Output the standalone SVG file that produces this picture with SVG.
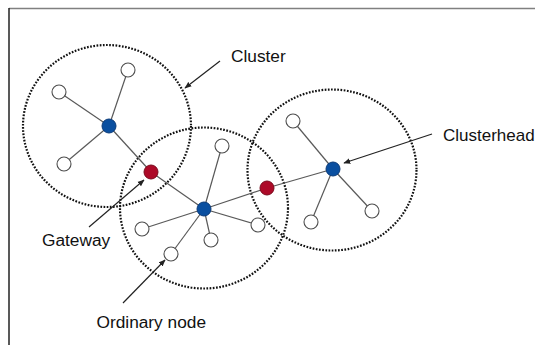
<svg xmlns="http://www.w3.org/2000/svg" width="535" height="345" viewBox="0 0 535 345">
<style>
.cl{fill:none;stroke:#111;stroke-width:2.2;stroke-dasharray:1.7 1.5}
.ed{stroke:#595959;stroke-width:1.2;fill:none}
.ord{fill:#fff;stroke:#4d4d4d;stroke-width:1.1}
.head{fill:#0a4fa0;stroke:#0a3a78;stroke-width:1}
.gw{fill:#ad0a28;stroke:#7a0a1c;stroke-width:1}
.lbl{font-family:"Liberation Sans",Arial,sans-serif;font-size:17.3px;fill:#111}
.ar{stroke:#222;stroke-width:1.2;fill:none;marker-end:url(#ah)}
</style>
<defs>
<marker id="ah" viewBox="0 0 10 10" refX="9" refY="5" markerWidth="7" markerHeight="7" markerUnits="userSpaceOnUse" orient="auto">
<path d="M0,1 L10,5 L0,9 z" fill="#222"/>
</marker>
</defs>
<rect width="535" height="345" fill="#fff"/>
<g id="frame">
<line x1="9" y1="8.5" x2="535" y2="8.5" stroke="#808080" stroke-width="1.5"/>
<line x1="9" y1="8" x2="9" y2="345" stroke="#222" stroke-width="1.5"/>
</g>
<g id="clusters">
<ellipse class="cl" cx="107" cy="126" rx="84" ry="81"/>
<ellipse class="cl" cx="204" cy="208" rx="84" ry="80.5"/>
<ellipse class="cl" cx="332" cy="170" rx="84.5" ry="80.5"/>
</g>
<g id="connectors">
<line class="ed" x1="109" y1="126" x2="128" y2="70"/>
<line class="ed" x1="109" y1="126" x2="59" y2="92"/>
<line class="ed" x1="109" y1="126" x2="64" y2="164"/>
<line class="ed" x1="109" y1="126" x2="151" y2="172"/>
<line class="ed" x1="151" y1="172" x2="204" y2="209"/>
<line class="ed" x1="204" y1="209" x2="222" y2="146"/>
<line class="ed" x1="204" y1="209" x2="267" y2="188"/>
<line class="ed" x1="204" y1="209" x2="142" y2="229"/>
<line class="ed" x1="204" y1="209" x2="211" y2="240"/>
<line class="ed" x1="204" y1="209" x2="258" y2="225"/>
<line class="ed" x1="204" y1="209" x2="171" y2="254"/>
<line class="ed" x1="267" y1="188" x2="333" y2="169"/>
<line class="ed" x1="333" y1="169" x2="293" y2="121"/>
<line class="ed" x1="333" y1="169" x2="311" y2="222"/>
<line class="ed" x1="333" y1="169" x2="372" y2="211"/>
</g>
<g id="n-o1"><circle class="ord" cx="128" cy="70" r="7"/></g>
<g id="n-o2"><circle class="ord" cx="59" cy="92" r="7"/></g>
<g id="n-o3"><circle class="ord" cx="64" cy="164" r="7"/></g>
<g id="n-h1"><circle class="head" cx="109" cy="126" r="7"/></g>
<g id="n-g1"><circle class="gw" cx="151" cy="172" r="7"/></g>
<g id="n-h2"><circle class="head" cx="204" cy="209" r="7"/></g>
<g id="n-o4"><circle class="ord" cx="222" cy="146" r="7"/></g>
<g id="n-o5"><circle class="ord" cx="142" cy="229" r="7"/></g>
<g id="n-o6"><circle class="ord" cx="211" cy="240" r="7"/></g>
<g id="n-o7"><circle class="ord" cx="258" cy="225" r="7"/></g>
<g id="n-o8"><circle class="ord" cx="171" cy="254" r="7"/></g>
<g id="n-g2"><circle class="gw" cx="267" cy="188" r="7"/></g>
<g id="n-h3"><circle class="head" cx="333" cy="169" r="7"/></g>
<g id="n-o9"><circle class="ord" cx="293" cy="121" r="7"/></g>
<g id="n-o10"><circle class="ord" cx="311" cy="222" r="7"/></g>
<g id="n-o11"><circle class="ord" cx="372" cy="211" r="7"/></g>
<g id="label-cluster">
<line class="ar" x1="220" y1="61" x2="185" y2="88"/>
<text class="lbl" x="231" y="62">Cluster</text>
</g>
<g id="label-clusterhead">
<line class="ar" x1="432" y1="134" x2="344" y2="163"/>
<text class="lbl" x="443" y="140.5" style="font-size:17px">Clusterhead</text>
</g>
<g id="label-gateway">
<line class="ar" x1="89" y1="227" x2="144" y2="180"/>
<text class="lbl" x="42" y="245.5">Gateway</text>
</g>
<g id="label-ordinary">
<line class="ar" x1="123" y1="303" x2="165" y2="260"/>
<text class="lbl" x="96.5" y="327.5">Ordinary node</text>
</g>
</svg>
